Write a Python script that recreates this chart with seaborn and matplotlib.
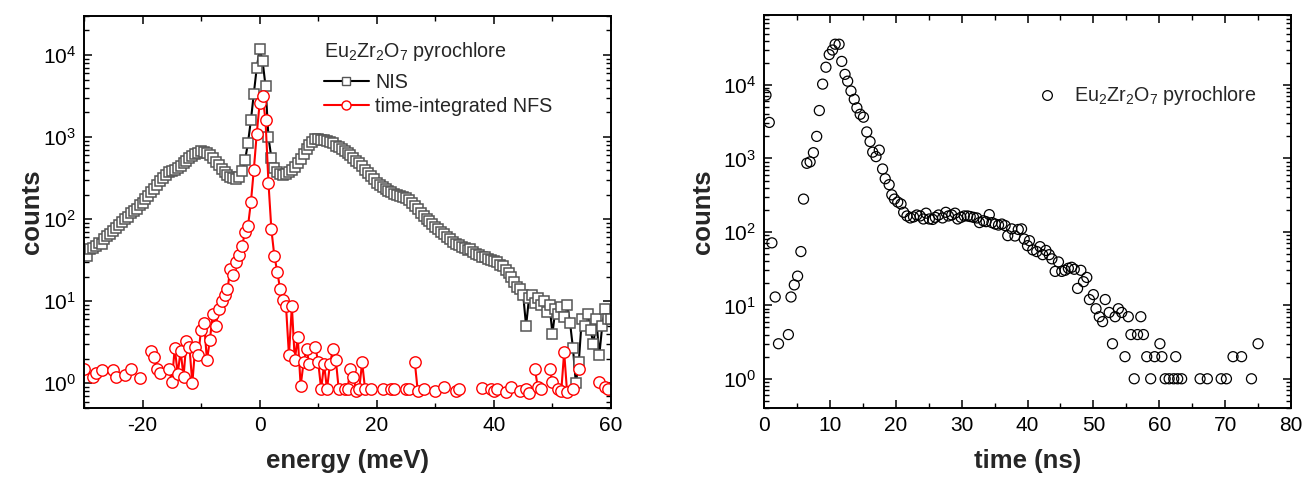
import numpy as np
import pandas as pd
import matplotlib
matplotlib.use('Agg')
import matplotlib.pyplot as plt
import seaborn as sns
from matplotlib.lines import Line2D
from matplotlib.ticker import MultipleLocator, LogLocator, NullFormatter

nan = np.nan

# ---------------------------------------------------------------
# Left panel: NIS and time-integrated NFS vs energy (0.5 meV grid)
# ---------------------------------------------------------------
energy = np.arange(-30.0, 60.5, 0.5)

nis_counts = [
    40, 36, 43, 45, 47, 52, 50, 58, 62, 66,                     # -30 .. -25.5
    72, 78, 86, 92, 100, 106, 118, 126, 134, 150,               # -25 .. -20.5
    158, 178, 192, 215, 235, 262, 295, 318, 350, 372,           # -20 .. -15.5
    388, 400, 425, 445, 480, 515, 550, 590, 625, 645,           # -15 .. -10.5
    670, 660, 640, 600, 555, 500, 455, 410, 378, 350,           # -10 .. -5.5
    330, 318, 305, 325, 390, 520, 850, 1600, 3400, 7000,        # -5 .. -0.5
    11800, 8500, 4200, 1000, 560, 420, 375, 355, 350, 360,      # 0 .. 4.5
    372, 395, 430, 480, 545, 620, 710, 800, 880, 940,           # 5 .. 9.5
    960, 935, 920, 895, 870, 840, 790, 760, 715, 680,           # 10 .. 14.5
    640, 600, 565, 510, 480, 440, 400, 365, 335, 305,           # 15 .. 19.5
    280, 265, 250, 235, 222, 212, 205, 198, 192, 186,           # 20 .. 24.5
    180, 170, 158, 145, 132, 120, 110, 102, 95, 88,             # 25 .. 29.5
    80, 76, 70, 66, 60, 57, 53, 50, 49, 46,                     # 30 .. 34.5
    45, 42, 43, 40, 38, 37, 35, 35, 33, 32,                     # 35 .. 39.5
    31, 30, 28, 27, 24, 22, 20, 17, 15, 14,                     # 40 .. 44.5
    12, 5, 11, 12, 9.5, 11, 9, 10, 7.5, 9,                      # 45 .. 49.5
    4, 8, 7, 8.5, 6.5, 9, 5.5, 2.7, 1.0, 1.8,                   # 50 .. 54.5
    6, 5, 7, 4.5, 3, 6, 2.2, 5, 8, 6, 6,                        # 55 .. 60
]

nfs_counts = [
    1.5, nan, nan, 1.2, 1.35, nan, 1.45, nan, nan, nan,         # -30 .. -25.5
    1.45, 1.2, nan, nan, 1.25, nan, 1.5, nan, nan, 1.15,        # -25 .. -20.5
    nan, nan, nan, 2.5, 2.1, 1.5, 1.35, nan, nan, 1.5,          # -20 .. -15.5
    1.05, 2.7, 1.3, 2.5, 1.2, 3.3, 2.8, 1.0, 2.8, 2.2,          # -15 .. -10.5
    4.5, 5.5, 1.9, 3.4, 7, 5, 8, 10, 12, 14,                    # -10 .. -5.5
    25, 21, 30, 37, 47, 70, 82, 160, 400, 1100,                 # -5 .. -0.5
    2600, 3200, 1600, 280, 75, 36, 23, 14, 10.5, 8.7,           # 0 .. 4.5
    2.2, 8.7, 1.9, 3.7, 0.93, 1.8, 2.6, 1.7, nan, 2.8,          # 5 .. 9.5
    1.8, 0.85, 1.7, 0.85, 1.7, 2.6, 1.95, 0.85, nan, 0.85,      # 10 .. 14.5
    0.85, 1.5, 1.2, 0.8, 0.85, 1.8, 0.85, nan, 0.85, nan,       # 15 .. 19.5
    nan, nan, 0.85, nan, nan, 0.85, 0.85, nan, nan, nan,        # 20 .. 24.5
    0.85, 0.85, nan, 1.8, 0.8, nan, 0.85, nan, nan, nan,        # 25 .. 29.5
    0.8, nan, nan, 0.9, nan, nan, nan, 0.8, 0.85, nan,          # 30 .. 34.5
    nan, nan, nan, nan, nan, nan, 0.88, nan, nan, 0.85,         # 35 .. 39.5
    0.8, 0.85, nan, nan, 0.78, nan, 0.9, nan, nan, 0.8,         # 40 .. 44.5
    nan, 0.85, 0.76, nan, 1.5, 0.9, 0.85, nan, nan, 1.5,        # 45 .. 49.5
    1.05, nan, 0.85, 0.8, 2.4, 0.78, nan, 0.85, nan, 1.5,       # 50 .. 54.5
    nan, nan, nan, nan, nan, nan, 1.05, nan, 0.9, 0.85, nan,    # 55 .. 60
]

# ---------------------------------------------------------------
# Right panel: time spectrum
# ---------------------------------------------------------------
time_ns = [
    0.3, 0.8, 1.2, 1.7, 2.2, 3.7, 4.1, 4.6, 5.1, 5.6,
    6.0, 6.5, 7.0, 7.5, 8.0, 8.4, 8.9, 9.4, 9.9, 10.4,
    10.8, 11.4, 11.8, 12.3, 12.7, 13.2, 13.7, 14.1, 14.6, 15.1,
    15.6, 16.1, 16.5, 17.0, 17.5, 18.0, 18.4, 19.0, 19.4, 19.8,
    20.3, 20.8, 21.2, 21.7, 22.2, 22.7, 23.2, 23.7, 24.2, 24.6,
    25.1, 25.6, 26.0, 26.5, 27.1, 27.6, 28.0, 28.5, 29.0, 29.4,
    29.9, 30.4, 30.9, 31.3, 31.8, 32.3, 32.7, 33.3, 33.7, 34.2,
    34.6, 35.1, 35.6, 36.1, 36.6, 37.0, 37.6, 38.1, 38.6, 39.1,
    39.5, 40.0, 40.3, 40.8, 41.4, 41.9, 42.3, 42.8, 43.3, 43.7,
    44.2, 44.7, 45.2, 45.7, 46.2, 46.7, 47.1, 47.6, 48.1, 48.5,
    49.0, 49.4, 50.0, 50.4, 50.9, 51.4, 51.8, 52.4, 52.9, 53.3,
    53.8, 54.3, 54.8, 55.3, 55.7, 56.2, 56.7, 57.2, 57.6, 58.1,
    58.7, 59.3, 60.1, 60.4, 60.9, 61.5, 62.2, 62.5, 62.8, 63.4,
    66.2, 67.3, 69.4, 70.2, 71.2, 72.5, 74.0, 75.0,
]
time_counts = [
    7300, 3100, 71, 13, 3, 4, 13, 19, 25, 54,
    280, 860, 900, 1200, 2000, 4500, 10300, 17500, 26000, 30000,
    36000, 36000, 21000, 14000, 11300, 8300, 6400, 4900, 4000, 3650,
    2300, 1700, 1220, 1060, 1300, 720, 530, 440, 320, 280,
    255, 240, 185, 165, 155, 160, 170, 165, 150, 180,
    150, 148, 158, 170, 155, 185, 165, 170, 180, 150,
    158, 165, 165, 162, 158, 155, 134, 142, 138, 172,
    134, 128, 124, 128, 122, 89, 110, 88, 108, 110,
    80, 65, 76, 57, 54, 63, 49, 56, 49, 43,
    29, 39, 29, 30, 32, 33, 31, 17, 30, 21,
    24, 12, 14, 9, 7, 6, 12, 8, 3, 7,
    9, 8, 2, 7, 4, 1, 4, 7, 4, 2,
    1, 2, 3, 2, 1, 1, 1, 2, 1, 1,
    1, 1, 1, 1, 2, 2, 1, 3,
]

sample_label = r'Eu$_2$Zr$_2$O$_7$ pyrochlore'

# ---------------------------------------------------------------
sns.set_theme(style='ticks')
plt.rcParams['font.family'] = ['Liberation Sans', 'DejaVu Sans']
plt.rcParams['mathtext.fontset'] = 'custom'
plt.rcParams['mathtext.rm'] = 'Liberation Sans'
plt.rcParams['mathtext.it'] = 'Liberation Sans:italic'
plt.rcParams['mathtext.bf'] = 'Liberation Sans:bold'
plt.rcParams['axes.unicode_minus'] = False

fig = plt.figure(figsize=(13.05, 4.79), dpi=100)
W, H = 1305, 479
ax1 = fig.add_axes([84 / W, 1 - 408 / H, 527 / W, 392 / H])
ax2 = fig.add_axes([764 / W, 1 - 408 / H, 527 / W, 393 / H])

# NIS: black line, grey open squares
df_nis = pd.DataFrame({'energy': energy, 'counts': nis_counts})
sns.lineplot(data=df_nis, x='energy', y='counts', ax=ax1, estimator=None, sort=False,
             color='black', lw=1.5, marker='s', markersize=7.5, markerfacecolor='white',
             markeredgecolor='#555555', markeredgewidth=1.1)

# NFS: red line, red open circles; zero-count channels break the line
nfs_arr = np.array(nfs_counts, dtype=float)
df_nfs = pd.DataFrame({'energy': energy, 'counts': nfs_arr,
                       'seg': np.cumsum(np.isnan(nfs_arr))})
df_nfs = df_nfs.dropna()
sns.lineplot(data=df_nfs, x='energy', y='counts', units='seg', ax=ax1, estimator=None,
             sort=False, color='red', lw=1.5, marker='o', markersize=8.2,
             markerfacecolor='white', markeredgecolor='red', markeredgewidth=1.0)

ax1.set_yscale('log')
ax1.set_xlim(-30, 60)
ax1.set_ylim(0.5, 3e4)
ax1.xaxis.set_major_locator(MultipleLocator(20))
ax1.xaxis.set_minor_locator(MultipleLocator(10))

h_nis = Line2D([], [], color='black', lw=1.5, marker='s', ms=5.5, mfc='white', mec='#555555', mew=1.0)
h_nfs = Line2D([], [], color='red', lw=1.5, marker='o', ms=6.5, mfc='white', mec='red', mew=1.0)
leg1 = ax1.legend([h_nis, h_nfs], ['NIS', 'time-integrated NFS'], title=sample_label,
                  loc='upper left', bbox_to_anchor=(0.455, 0.94), frameon=False,
                  fontsize=14.2, title_fontsize=14.2, handlelength=2.3, handletextpad=0.3,
                  labelspacing=0.25, borderpad=0, borderaxespad=0, alignment='left')
leg1._legend_box.sep = 7.5  # a bit more room under the legend title

# time spectrum: open black circles
df_t = pd.DataFrame({'time': time_ns, 'counts': time_counts})
sns.scatterplot(data=df_t, x='time', y='counts', ax=ax2, marker='o', s=52,
                facecolor='none', edgecolor='black', linewidth=0.9)
ax2.set_yscale('log')
ax2.set_xlim(0, 80)
ax2.set_ylim(0.4, 9e4)
ax2.xaxis.set_major_locator(MultipleLocator(10))
ax2.xaxis.set_minor_locator(MultipleLocator(5))

h_t = Line2D([], [], ls='none', marker='o', ms=7, mfc='none', mec='black', mew=0.9)
ax2.legend([h_t], [sample_label], loc='center left', bbox_to_anchor=(0.499, 0.794),
           frameon=False, fontsize=14.2, handlelength=2.0, handletextpad=0.4,
           borderpad=0, borderaxespad=0)

ax1.set_xlabel('energy (meV)', fontsize=18.5, fontweight='bold')
ax2.set_xlabel('time (ns)', fontsize=18.5, fontweight='bold')
for ax in (ax1, ax2):
    ax.set_ylabel('counts', fontsize=18.5, fontweight='bold')
    ax.yaxis.set_major_locator(LogLocator(base=10, numticks=10))
    ax.yaxis.set_minor_locator(LogLocator(base=10, subs=np.arange(2, 10), numticks=20))
    ax.yaxis.set_minor_formatter(NullFormatter())
    ax.tick_params(which='both', direction='in', top=True, right=True, labelsize=15,
                   colors='black')
    ax.tick_params(which='major', length=6, width=1.1, pad=6)
    ax.tick_params(which='minor', length=3.5, width=1.0)
    for s in ax.spines.values():
        s.set_linewidth(1.4)
        s.set_color('black')
    ax.xaxis.set_label_coords(0.5, -0.105)

ax1.yaxis.set_label_coords(-0.075, 0.5)
ax2.yaxis.set_label_coords(-0.093, 0.5)

fig.savefig('out.png', dpi=100)
